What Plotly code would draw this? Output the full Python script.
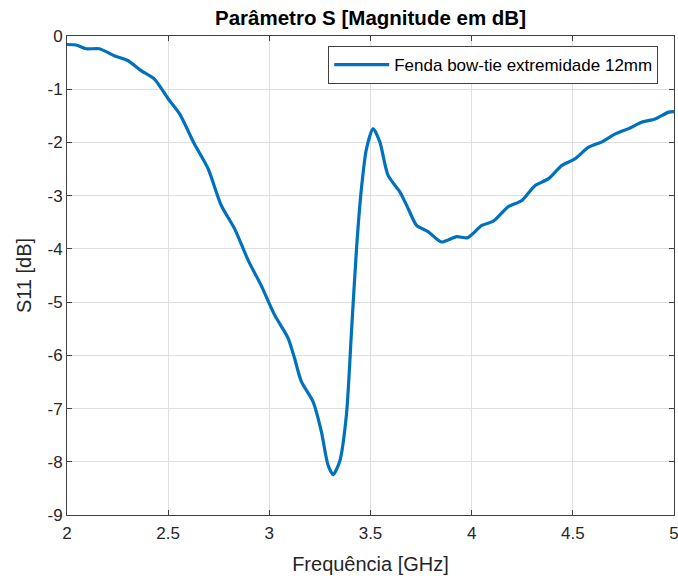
import plotly.graph_objects as go

freq_ghz = [2.0, 2.045, 2.094, 2.16, 2.234, 2.30, 2.366, 2.432, 2.50, 2.556, 2.63, 2.697,
            2.762, 2.828, 2.895, 2.96, 3.026, 3.093, 3.125, 3.158, 3.216, 3.257, 3.29,
            3.315, 3.348, 3.381, 3.406, 3.431, 3.455, 3.48, 3.513, 3.546, 3.587, 3.645,
            3.686, 3.728, 3.786, 3.851, 3.926, 3.98, 4.05, 4.107, 4.18, 4.248, 4.314,
            4.38, 4.446, 4.51, 4.578, 4.644, 4.71, 4.776, 4.84, 4.907, 4.974, 5.0]
s11_db = [-0.16, -0.17, -0.24, -0.24, -0.37, -0.46, -0.65, -0.81, -1.18, -1.46, -2.03, -2.49,
          -3.18, -3.62, -4.21, -4.69, -5.24, -5.68, -6.06, -6.49, -6.87, -7.43, -8.06,
          -8.24, -7.99, -7.12, -5.56, -3.99, -2.87, -2.12, -1.74, -1.99, -2.62, -2.93,
          -3.24, -3.56, -3.68, -3.87, -3.77, -3.79, -3.56, -3.48, -3.21, -3.09, -2.81,
          -2.68, -2.43, -2.31, -2.09, -1.99, -1.84, -1.74, -1.62, -1.56, -1.43, -1.42]

x_ticks = [2, 2.5, 3, 3.5, 4, 4.5, 5]
x_tick_labels = ["2", "2.5", "3", "3.5", "4", "4.5", "5"]
y_ticks = [0, -1, -2, -3, -4, -5, -6, -7, -8, -9]
y_tick_labels = ["0", "-1", "-2", "-3", "-4", "-5", "-6", "-7", "-8", "-9"]

series_name = "Fenda bow-tie extremidade 12mm"
title_text = "Parâmetro S [Magnitude em dB]"

FONT = "Liberation Sans, Arial, sans-serif"
AX = "rgb(64,64,64)"

W, H = 678, 576
ML, MR, MT, MB = 67, 4, 36, 61

fig = go.Figure()
fig.add_trace(go.Scatter(
    x=freq_ghz, y=s11_db, mode="lines", name=series_name,
    line=dict(color="#0072BD", width=3.2, shape="spline", smoothing=0.7),
))

axis_common = dict(
    showline=True, linecolor=AX, linewidth=1, mirror="ticks",
    ticks="inside", ticklen=5, tickcolor=AX, tickwidth=1,
    showgrid=True, gridcolor="rgb(223,223,223)", gridwidth=1,
    zeroline=False, automargin=False, ticklabeloverflow="allow",
    tickfont=dict(family=FONT, size=17, color="rgb(38,38,38)"),
)

fig.update_layout(
    width=W, height=H,
    margin=dict(l=ML, r=MR, t=MT, b=MB),
    paper_bgcolor="white", plot_bgcolor="white",
    font=dict(family=FONT, color="rgb(38,38,38)"),
    title=dict(text="<b>" + title_text + "</b>", x=(ML + (W - ML - MR) / 2) / W,
               xanchor="center", y=1 - 18 / H, yanchor="middle",
               font=dict(size=20.5, color="black")),
    xaxis=dict(range=[2, 5], tickvals=x_ticks, ticktext=x_tick_labels,
               ticklabelstandoff=3,
               title=dict(text="Frequência [GHz]", font=dict(size=20), standoff=14),
               **axis_common),
    yaxis=dict(range=[-9, 0], tickvals=y_ticks, ticktext=y_tick_labels,
               title=dict(text="S11 [dB]", font=dict(size=20), standoff=10),
               **axis_common),
    showlegend=True,
    legend=dict(x=0.974, xanchor="right", y=0.979, yanchor="top",
                bgcolor="white", bordercolor=AX, borderwidth=1,
                font=dict(family=FONT, size=17, color="black"),
                itemwidth=55),
)

fig.write_html("out.html", config={"displayModeBar": False},
               post_script="document.body.style.margin='0';document.body.style.overflow='hidden';")
